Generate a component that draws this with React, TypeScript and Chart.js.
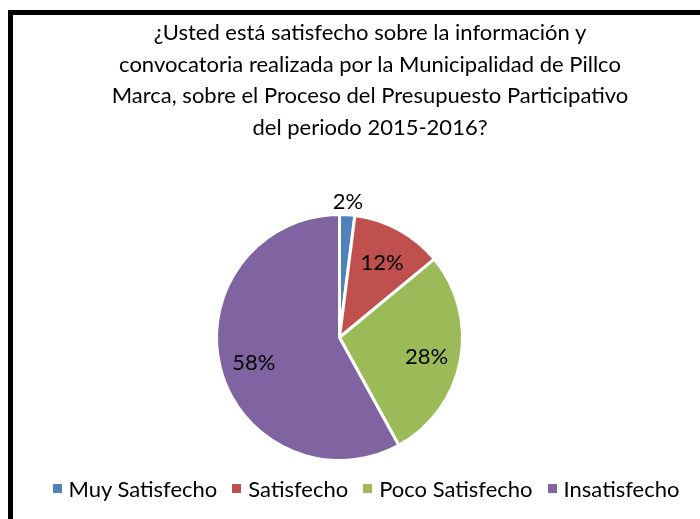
import React, { useEffect, useRef } from "react";
import { Chart, registerables } from "chart.js";

Chart.register(...registerables);

const titleLines = [
  "¿Usted está satisfecho sobre la información y",
  "convocatoria realizada por la Municipalidad de Pillco",
  "Marca, sobre el Proceso del Presupuesto Participativo",
  "del periodo 2015-2016?",
];
const categories = ["Muy Satisfecho", "Satisfecho", "Poco Satisfecho", "Insatisfecho"];
const values = [2, 12, 28, 58];
const colors = ["#4F81BD", "#C0504D", "#9BBB59", "#8064A2"];

const FONT = "Lato, 'Noto Sans', sans-serif";

const pctLabelPlugin = {
  id: "pctLabels",
  afterDatasetsDraw(chart: any) {
    const ctx = chart.ctx;
    const meta = chart.getDatasetMeta(0);
    ctx.save();
    ctx.font = `22px ${FONT}`;
    ctx.fillStyle = "#000";
    ctx.textAlign = "center";
    ctx.textBaseline = "middle";
    meta.data.forEach((arc: any, i: number) => {
      const { x, y, startAngle, endAngle, outerRadius } = arc.getProps(
        ["x", "y", "startAngle", "endAngle", "outerRadius"],
        true
      );
      const mid = (startAngle + endAngle) / 2;
      const small = values[i] < 5;
      const r = small ? outerRadius + 13 : outerRadius * 0.72;
      ctx.fillText(`${values[i]}%`, x + Math.cos(mid) * r, y + Math.sin(mid) * r + (small ? 0 : 3));
    });
    ctx.restore();
  },
};

export default function App() {
  const canvasRef = useRef<HTMLCanvasElement | null>(null);

  useEffect(() => {
    if (!canvasRef.current) return;
    const chart = new Chart(canvasRef.current, {
      type: "pie",
      data: {
        labels: categories,
        datasets: [
          {
            data: values,
            backgroundColor: colors,
            borderColor: "#ffffff",
            borderWidth: 3,
          },
        ],
      },
      options: {
        animation: false,
        responsive: false,
        maintainAspectRatio: false,
        layout: { padding: { left: 215, right: 236, top: 213, bottom: 57 } },
        plugins: {
          legend: { display: false },
          title: { display: false },
          tooltip: { enabled: false },
        },
      },
      plugins: [pctLabelPlugin],
    });
    return () => chart.destroy();
  }, []);

  return (
    <div
      style={{
        position: "fixed",
        left: 0,
        top: 0,
        width: 700,
        height: 519,
        overflow: "hidden",
        background: "#fff",
        fontFamily: FONT,
      }}
    >
      <div
        style={{
          position: "absolute",
          left: 8,
          top: 10,
          width: 800,
          height: 600,
          borderLeft: "5px solid #000",
          borderTop: "5px solid #000",
        }}
      />
      <canvas
        ref={canvasRef}
        width={700}
        height={519}
        style={{ position: "absolute", left: 0, top: 0, width: 700, height: 519 }}
      />
      <div
        style={{
          position: "absolute",
          left: 0,
          top: 16,
          width: 740,
          textAlign: "center",
          fontSize: 22,
          lineHeight: "31.5px",
          color: "#000",
        }}
      >
        {titleLines.map((t, i) => (
          <div key={i}>{t}</div>
        ))}
      </div>
      <div
        style={{
          position: "absolute",
          left: 0,
          top: 475,
          width: 732,
          height: 26,
          display: "flex",
          justifyContent: "center",
          alignItems: "center",
          fontSize: 22,
          color: "#000",
        }}
      >
        {categories.map((c, i) => (
          <div key={c} style={{ display: "flex", alignItems: "center", marginRight: i < categories.length - 1 ? 15 : 0 }}>
            <span style={{ display: "inline-block", width: 9, height: 9, background: colors[i], marginRight: 7 }} />
            <span>{c}</span>
          </div>
        ))}
      </div>
    </div>
  );
}
